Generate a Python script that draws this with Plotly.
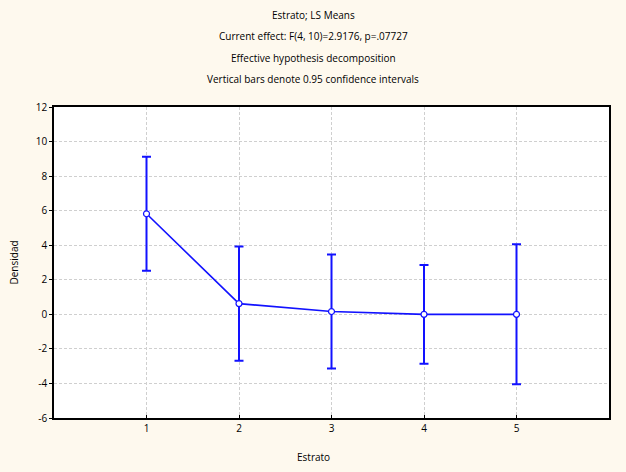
import plotly.graph_objects as go

categories = [1, 2, 3, 4, 5]
means = [5.82, 0.62, 0.16, 0.0, 0.0]
ci_half = [3.3, 3.3, 3.3, 2.86, 4.05]
title_lines = [
    "Estrato; LS Means",
    "Current effect: F(4, 10)=2.9176, p=.07727",
    "Effective hypothesis decomposition",
    "Vertical bars denote 0.95 confidence intervals",
]
x_title = "Estrato"
y_title = "Densidad"
y_ticks = [-6, -4, -2, 0, 2, 4, 6, 8, 10, 12]
y_ticklabels = ["-6", "-4", "-2", "0", "2", "4", "6", "8", "10", "12"]

FONT = "Open Sans, Liberation Sans, sans-serif"
BLUE = "rgb(18,18,255)"

fig = go.Figure()
fig.add_trace(go.Scatter(
    x=categories, y=means, mode="lines+markers",
    line=dict(color=BLUE, width=1.6),
    marker=dict(symbol="circle", size=6, color="white", line=dict(color=BLUE, width=1.2)),
    error_y=dict(type="data", array=ci_half, symmetric=True, color=BLUE, thickness=2, width=4.5),
    showlegend=False,
))

W, H = 626, 472
ml, mr, mt, mb = 54, 17, 107, 54
ph = H - mt - mb
pw = W - ml - mr
ys = [15, 36, 58, 79]
annos = []
for t, yp in zip(title_lines, ys):
    annos.append(dict(text=t, x=(W / 2 - ml) / pw, xref="paper", y=1 + (mt - yp) / ph, yref="paper",
                      xanchor="center", yanchor="middle", showarrow=False,
                      font=dict(family=FONT, size=10, color="black")))
annos.append(dict(text=x_title, x=(W / 2 - ml) / pw, xref="paper", y=-(457 - (H - mb)) / ph, yref="paper",
                  xanchor="center", yanchor="middle", showarrow=False,
                  font=dict(family=FONT, size=10, color="black")))
annos.append(dict(text=y_title, x=-(ml - 13) / pw, xref="paper", y=0.5, yref="paper", textangle=-90,
                  xanchor="center", yanchor="middle", showarrow=False,
                  font=dict(family=FONT, size=10, color="black")))

grid = dict(showgrid=True, gridcolor="#cfcfcf", griddash="3px,2px", gridwidth=1,
            showline=True, linecolor="black", linewidth=1.5, mirror=True,
            tickcolor="black", zeroline=False, automargin=False,
            tickfont=dict(family=FONT, size=10, color="black"))

fig.update_layout(
    width=W, height=H,
    margin=dict(l=ml, r=mr, t=mt, b=mb),
    paper_bgcolor="#FEF9EE", plot_bgcolor="white",
    font=dict(family=FONT, size=10, color="black"),
    annotations=annos,
    xaxis=dict(range=[0, 6], tickvals=categories, ticktext=[str(c) for c in categories],
               ticks="inside", ticklen=3, **grid),
    yaxis=dict(range=[-6, 12], tickvals=y_ticks, ticktext=y_ticklabels,
               ticks="outside", ticklen=3, **grid),
)

fig.write_html("out.html", config={"displayModeBar": False},
               post_script="document.body.style.margin='0';document.body.style.padding='0';document.body.style.overflow='hidden';")
